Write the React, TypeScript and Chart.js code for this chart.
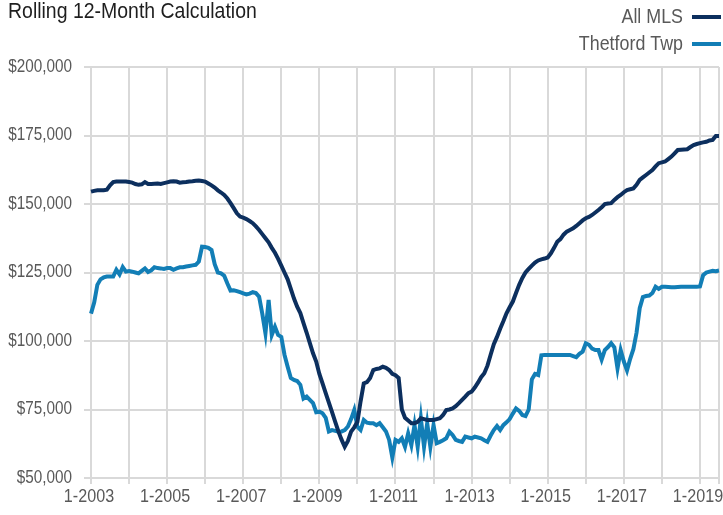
import React, { useEffect, useRef } from "react";
import { Chart, registerables } from "chart.js";

Chart.register(...registerables);

const START_YEAR = 2003;
const MONTH_COUNT = 199; // 1-2003 .. 7-2019
const CATEGORIES: string[] = [];
for (let i = 0; i < MONTH_COUNT; i++) {
  CATEGORIES.push(`${(i % 12) + 1}-${START_YEAR + Math.floor(i / 12)}`);
}

// values in thousands of dollars
const ALL_MLS: number[] = [
  154.5, 154.8, 155, 155, 155, 155.2, 156.8, 158, 158.2, 158.2, 158.2, 158.2,
  158, 157.8, 157.3, 157, 157.2, 158, 157.3, 157.3, 157.4, 157.5, 157.3, 157.6,
  157.9, 158.2, 158.3, 158.2, 157.8, 157.9, 158, 158.2, 158.3, 158.5, 158.6, 158.4,
  158.2, 157.5, 156.8, 156, 155, 154.2, 153.3, 152, 150.3, 148.5, 146.6, 145.4,
  145, 144.5, 143.8, 143, 141.8, 140.5, 139, 137.5, 136, 134, 132.2, 130,
  127.5, 125, 122.5, 119, 115.5, 112.5, 110.2, 106.5, 103, 99.2, 95.5, 92.5,
  88, 84.5, 81, 77.5, 74, 70.5, 67, 64, 61.4, 63.5, 66.9, 68.5,
  70.5, 78, 84.5, 85, 86.5, 89.4, 89.8, 90, 90.6, 90.2, 89.4, 88,
  87.5, 86.5, 75, 72, 71, 70, 70, 70.5, 71.8, 71.5, 71.2, 71.2,
  71.2, 71.5, 71.8, 73, 74.8, 75, 75.4, 76.2, 77.3, 78.5, 79.7, 81,
  81.5, 83, 84.8, 86.8, 88.2, 91, 95, 98.8, 101.5, 104.5, 107.2, 110.1,
  112.3, 114.4, 117.5, 120.5, 123, 125, 126.3, 127.5, 128.6, 129.4, 129.8, 130.1,
  130.5, 132, 134, 136.2, 137.2, 138.8, 139.9, 140.5, 141.1, 142, 143, 144,
  144.8, 145.3, 146, 146.9, 147.8, 148.8, 150, 150.2, 150.3, 151.5, 152.5, 153.3,
  154.3, 155.1, 155.4, 155.7, 157, 158.8, 159.7, 160.6, 161.5, 162.4, 163.7, 164.9,
  165.2, 165.5, 166.4, 167.3, 168.5, 169.7, 169.8, 169.9, 170, 170.8, 171.5, 171.9,
  172.2, 172.5, 172.7, 173.2, 173.4, 174.8, 174.8,
];

const THETFORD_TWP: number[] = [
  110, 114, 120.5, 122.5, 123.2, 123.5, 123.5, 123.5, 126, 124.3, 127, 125.3,
  125.5, 125.3, 125, 124.7, 125.6, 126.5, 125.2, 125.8, 126.9, 126.6, 126.5, 126.3,
  126.6, 126.6, 126, 126.5, 126.9, 126.9, 127.2, 127.4, 127.6, 127.8, 129, 134.4,
  134.3, 134, 133.2, 128, 125, 124.7, 123.8, 121, 118.4, 118.5, 118.2, 117.8,
  117.4, 117, 117.3, 117.8, 117.5, 116.2, 110, 102.8, 115, 102.2, 105.2, 102.2,
  101.5, 95, 90.6, 86.5, 85.8, 85.4, 84, 79, 79.7, 78.5, 77.3, 74,
  74.2, 73.6, 72, 67, 67.5, 67.2, 66.9, 67, 67.5, 68.8, 71.5, 74.8,
  68.7, 67.5, 71.2, 70.2, 70, 70, 69.3, 70, 68.5, 67, 63.9, 57.5,
  63.9, 63.2, 64.5, 61.4, 66.3, 62, 69.3, 61.4, 71.8, 61.4, 70, 61.4,
  69.3, 62.7, 63.2, 63.8, 64.5, 66.9, 65.7, 63.9, 63.5, 63.2, 65.1, 64.8,
  64.5, 65.1, 64.8, 64.5, 63.8, 63.2, 65.5, 67.5, 69, 67.5, 69.3, 70.3,
  71.5, 73.5, 75.4, 74.5, 73, 72.6, 75, 86, 88, 87.6, 94.8, 94.9,
  94.9, 94.9, 94.9, 94.9, 94.9, 94.9, 94.9, 94.9, 94.5, 94.1, 95.3, 96.1,
  99.2, 98.6, 97.2, 96.7, 96.7, 93.2, 96.7, 97.8, 99.2, 97.7, 90, 96.7,
  92.5, 89.3, 93.5, 97, 103, 112, 116, 116.4, 116.6, 117.5, 119.8, 119,
  119.8, 119.8, 119.7, 119.6, 119.6, 119.7, 119.8, 119.8, 119.8, 119.8, 119.8, 119.8,
  119.9, 124, 125, 125.3, 125.6, 125.5, 125.7,
];

const Y_MIN = 50;
const Y_MAX = 200;
const Y_STEP = 25;

const TITLE = "Rolling 12-Month Calculation";
const SERIES_NAMES = ["All MLS", "Thetford Twp"];
const COLORS = ["#0c2f5e", "#127eb6"];

const FONT = '"Liberation Sans", Arial, sans-serif';
const CONDENSE = 0.85;
const GRID = "#d9d9d9";
const TICK_COLOR = "#595959";

function narrowText(
  ctx: CanvasRenderingContext2D,
  text: string,
  x: number,
  y: number,
  size: number,
  color: string,
  align: CanvasTextAlign,
  squeeze: number
) {
  ctx.save();
  ctx.font = `${size}px ${FONT}`;
  ctx.fillStyle = color;
  ctx.textAlign = align;
  ctx.textBaseline = "middle";
  ctx.translate(x, y);
  ctx.scale(squeeze, 1);
  ctx.fillText(text, 0, 0);
  ctx.restore();
}

const textPlugin = {
  id: "narrowTexts",
  afterDraw(chart: any) {
    const ctx: CanvasRenderingContext2D = chart.ctx;
    // title
    narrowText(ctx, TITLE, 8, 12, 22.5, "#1e1e1e", "left", 0.865);

    // legend
    const rows = [17, 44];
    chart.data.datasets.forEach((ds: any, i: number) => {
      const y = rows[i];
      narrowText(ctx, ds.label, 683, y, 21, "#595959", "right", CONDENSE);
      ctx.save();
      ctx.strokeStyle = ds.borderColor;
      ctx.lineWidth = 4;
      ctx.beginPath();
      ctx.moveTo(692, y);
      ctx.lineTo(721, y);
      ctx.stroke();
      ctx.restore();
    });

    // y tick labels
    const ys = chart.scales.y;
    ys.ticks.forEach((t: any) => {
      const py = ys.getPixelForValue(t.value);
      const label = "$" + (Number(t.value) * 1000).toLocaleString("en-US");
      narrowText(ctx, label, 72, py, 18, TICK_COLOR, "right", CONDENSE);
    });

    // x tick labels
    const xs = chart.scales.x;
    xs.ticks.forEach((t: any) => {
      const v = Number(t.value);
      if (v % 24 !== 0) return;
      const px = xs.getPixelForValue(v);
      narrowText(ctx, CATEGORIES[v], px - 2, 497, 19, TICK_COLOR, "center", CONDENSE);
    });
  },
};

export default function App() {
  const ref = useRef<HTMLCanvasElement | null>(null);

  useEffect(() => {
    if (!ref.current) return;
    const chart = new Chart(ref.current, {
      type: "line",
      data: {
        labels: CATEGORIES,
        datasets: [
          {
            label: SERIES_NAMES[0],
            data: ALL_MLS,
            borderColor: COLORS[0],
            backgroundColor: COLORS[0],
            borderWidth: 4,
            pointRadius: 0,
            tension: 0,
          },
          {
            label: SERIES_NAMES[1],
            data: THETFORD_TWP,
            borderColor: COLORS[1],
            backgroundColor: COLORS[1],
            borderWidth: 4,
            pointRadius: 0,
            tension: 0,
          },
        ],
      },
      options: {
        responsive: false,
        animation: false,
        layout: { padding: { left: 0, right: 4, top: 67, bottom: 0 } },
        plugins: {
          legend: { display: false },
          title: { display: false },
          tooltip: { enabled: false },
        },
        scales: {
          x: {
            type: "category",
            offset: false,
            afterBuildTicks: (scale: any) => {
              scale.ticks = scale.ticks.filter(
                (t: any) => t.value % 12 === 0 || t.value === MONTH_COUNT - 1
              );
            },
            afterFit: (scale: any) => {
              scale.height = 37;
            },
            grid: {
              color: GRID,
              lineWidth: 2,
              tickLength: 6,
              drawOnChartArea: true,
            },
            border: { display: false },
            ticks: {
              display: false,
              autoSkip: false,
              maxRotation: 0,
              minRotation: 0,
            },
          },
          y: {
            min: Y_MIN,
            max: Y_MAX,
            afterFit: (scale: any) => {
              scale.width = 91;
            },
            grid: { color: GRID, lineWidth: 2, tickLength: 7 },
            border: { display: false },
            ticks: {
              display: false,
              stepSize: Y_STEP,
            },
          },
        },
      },
      plugins: [textPlugin],
    });
    return () => chart.destroy();
  }, []);

  return (
    <div style={{ position: "fixed", left: 0, top: 0, width: 723, height: 515, background: "#fff" }}>
      <canvas ref={ref} width={723} height={515} style={{ width: 723, height: 515, display: "block" }} />
    </div>
  );
}
